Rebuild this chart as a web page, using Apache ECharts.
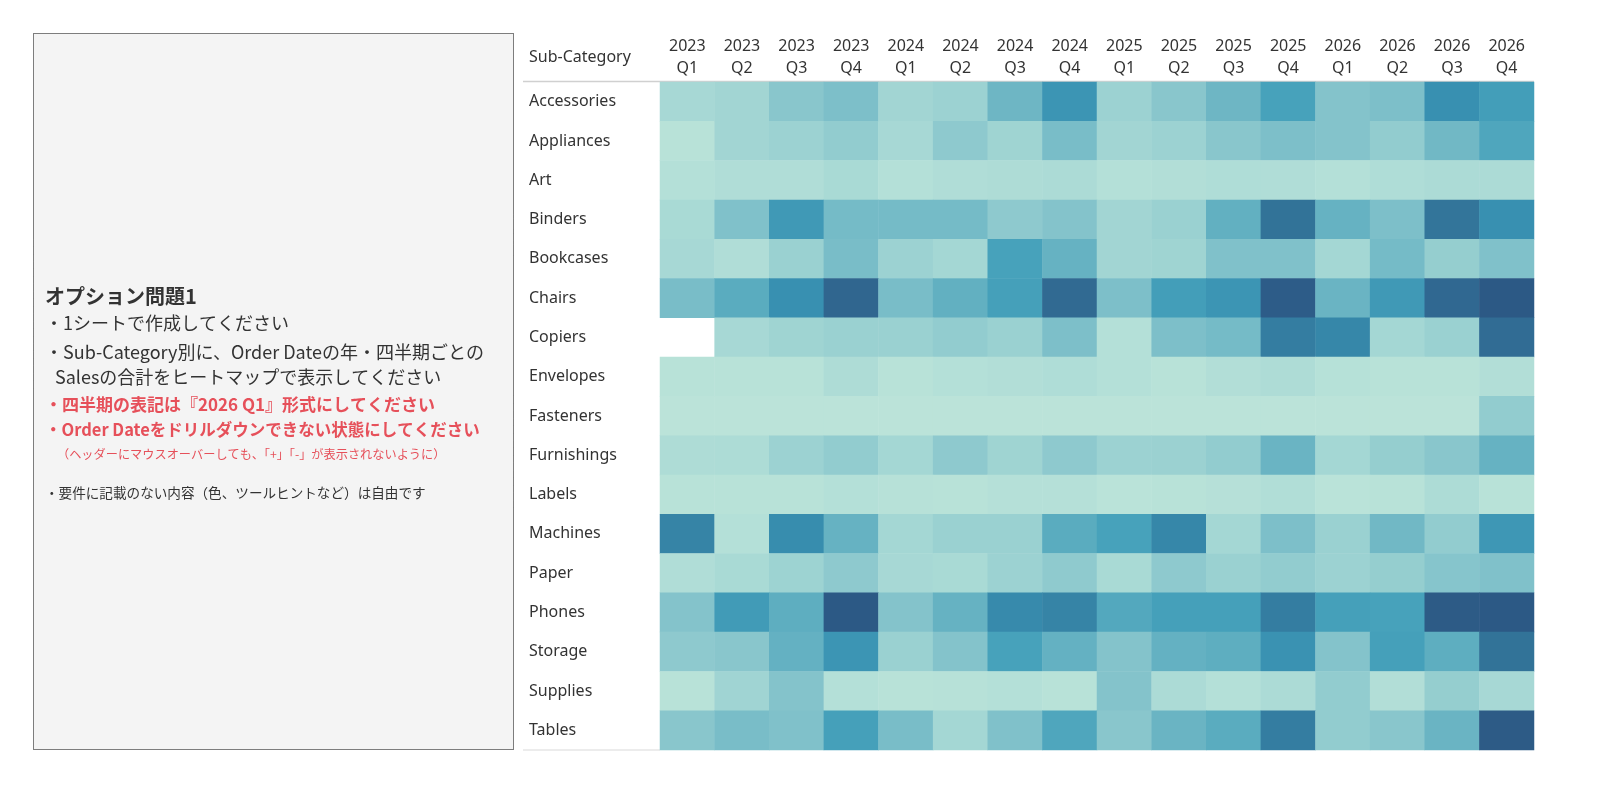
<!DOCTYPE html>
<html>
<head>
<meta charset="utf-8">
<title>Sales heatmap</title>
<script src="https://cdn.jsdelivr.net/npm/echarts@6/dist/echarts.min.js"></script>
<style>
  html, body { margin: 0; padding: 0; background: #fff; }
  #main { width: 1600px; height: 800px; }
</style>
</head>
<body>
<div id="main"></div>
<script>
// 四半期ラベル
var quarters = ['2023\nQ1','2023\nQ2','2023\nQ3','2023\nQ4','2024\nQ1','2024\nQ2','2024\nQ3','2024\nQ4',
                '2025\nQ1','2025\nQ2','2025\nQ3','2025\nQ4','2026\nQ1','2026\nQ2','2026\nQ3','2026\nQ4'];
var subCategories = ['Accessories','Appliances','Art','Binders','Bookcases','Chairs','Copiers','Envelopes',
                     'Fasteners','Furnishings','Labels','Machines','Paper','Phones','Storage','Supplies','Tables'];

// Sales合計（千ドル、画像から読み取り）
var accessories = [5, 6, 11, 13, 6, 7, 15, 23, 7, 11, 15, 20, 12, 13, 24, 21];
var appliances  = [1, 6, 7, 9, 5, 10, 6.5, 13.5, 6, 7, 11, 13, 12, 9, 14.5, 19];
var art         = [2, 3, 3, 4.5, 2, 3, 3.5, 4, 2, 2.5, 3.3, 3, 2, 3.3, 4, 4];
var binders     = [4.5, 12.5, 22, 14, 14, 14, 10, 12, 6, 7.5, 16.5, 29, 16, 13, 28.5, 24];
var bookcases   = [5, 3, 7.5, 13.5, 7, 5.5, 20, 16, 6, 6.5, 12.5, 12.5, 5.5, 14, 8.5, 12.5];
var chairs      = [13.5, 17.5, 24, 32, 13.5, 16.5, 20.5, 31, 13, 21, 23, 35, 15.5, 22, 31.5, 36];
var copiers     = [null, 5, 6.5, 7.5, 7.5, 9, 7.5, 13, 2, 13, 14, 27, 25.5, 5.5, 7.5, 30.5];
var envelopes   = [1, 1, 1, 3.5, 1, 2, 2.5, 3.3, 2, 1, 2.5, 3.5, 1.5, 1, 1, 2.5];
var fasteners   = [0.3, 0.3, 0.3, 0.3, 0.3, 0.3, 0.3, 0.3, 0.3, 0.3, 0.3, 0.3, 0.3, 0.3, 0.3, 9];
var furnishings = [3.5, 3.7, 7, 9, 5.5, 10, 6.5, 10, 7, 7.3, 9, 15.5, 5.5, 8.5, 11, 16];
var labels      = [1, 1, 1, 2, 1.2, 1, 1.8, 1.8, 0.6, 1, 1.6, 2.8, 0.6, 1, 3.7, 1];
var machines    = [26, 2, 24.5, 16, 5.5, 7.5, 7.5, 17.5, 20, 25.5, 5.5, 13, 7.5, 14.5, 9, 22.5];
var paper       = [3, 4.5, 6.8, 10, 5, 4.5, 7, 9.7, 4.5, 10, 7.5, 9, 7, 8.5, 11.5, 12.5];
var phones      = [12, 21.5, 17, 36, 12, 16, 25, 26, 18.5, 20.5, 20.5, 27, 20.5, 20, 35.5, 36];
var storage     = [10, 11, 16.2, 23, 7.5, 12, 20, 16.2, 12, 16.2, 17, 23.5, 12, 20.5, 17, 29];
var supplies    = [1, 6.3, 12, 2, 1, 1.2, 2, 1, 12, 4, 2, 4, 9, 2.5, 8.5, 5];
var tables      = [11, 13.5, 12.5, 20.5, 13.5, 5.5, 12.5, 19, 11, 15.5, 17.5, 27, 9, 11, 15.5, 35.5];

var rows = [accessories, appliances, art, binders, bookcases, chairs, copiers, envelopes,
            fasteners, furnishings, labels, machines, paper, phones, storage, supplies, tables];

var heatData = [];
for (var r = 0; r < rows.length; r++) {
	for (var c = 0; c < quarters.length; c++) {
		if (rows[r][c] !== null) {
			heatData.push([c, r, rows[r][c]]);
		}
	}
}

var font = '"Noto Sans", "Noto Sans CJK JP", sans-serif';
var jpFont = '"Noto Sans CJK JP", sans-serif';

var myChart = echarts.init(document.getElementById('main'));
var option = {
	backgroundColor: '#ffffff',
	animation: false,
	grid: { left: 660, right: 66, top: 82, bottom: 50 },
	xAxis: {
		type: 'category',
		position: 'top',
		data: quarters,
		axisLine: { show: false },
		axisTick: { show: false },
		splitLine: { show: false },
		axisLabel: { color: '#333', fontSize: 16, fontFamily: font, lineHeight: 22, margin: 3 }
	},
	yAxis: {
		type: 'category',
		inverse: true,
		data: subCategories,
		axisLine: { show: false },
		axisTick: { show: false },
		axisLabel: { color: '#333', fontSize: 16, fontFamily: font, align: 'left', margin: 131 }
	},
	visualMap: {
		show: false,
		type: 'continuous',
		min: 0,
		max: 36,
		dimension: 2,
		inRange: {
			color: ['#bce4d9', '#acdbd6', '#97cfd0', '#84c3cb', '#66b2c2', '#47a2bb',
			        '#3890b1', '#33779b', '#30668f', '#2c5985']
		}
	},
	series: [{
		type: 'heatmap',
		data: heatData,
		itemStyle: { borderWidth: 0 },
		emphasis: { disabled: true }
	}],
	graphic: [
		// 左側の説明パネル
		{ type: 'rect', shape: { x: 33.5, y: 33.5, width: 480, height: 716 },
		  style: { fill: '#f4f4f4', stroke: '#000', lineWidth: 1, lineDash: [1, 1] } },
		{ type: 'text', x: 45, y: 296, style: { text: 'オプション問題1', fill: '#333', font: 'bold 20px ' + jpFont, textVerticalAlign: 'middle' } },
		{ type: 'text', x: 45, y: 323, style: { text: '・1シートで作成してください', fill: '#333', font: '18px ' + jpFont, textVerticalAlign: 'middle' } },
		{ type: 'text', x: 45, y: 352, style: { text: '・Sub-Category別に、Order Dateの年・四半期ごとの', fill: '#333', font: '18px ' + jpFont, textVerticalAlign: 'middle' } },
		{ type: 'text', x: 55, y: 377, style: { text: 'Salesの合計をヒートマップで表示してください', fill: '#333', font: '18px ' + jpFont, textVerticalAlign: 'middle' } },
		{ type: 'text', x: 45, y: 405, style: { text: '・四半期の表記は『2026 Q1』形式にしてください', fill: '#e6505a', font: 'bold 17px ' + jpFont, textVerticalAlign: 'middle' } },
		{ type: 'text', x: 45, y: 430, style: { text: '・Order Dateをドリルダウンできない状態にしてください', fill: '#e6505a', font: 'bold 16.5px ' + jpFont, textVerticalAlign: 'middle' } },
		{ type: 'text', x: 57, y: 454, style: { text: '（ヘッダーにマウスオーバーしても、「+」「-」が表示されないように）', fill: '#e6505a', font: '12.2px ' + jpFont, textVerticalAlign: 'middle' } },
		{ type: 'text', x: 45, y: 493, style: { text: '・要件に記載のない内容（色、ツールヒントなど）は自由です', fill: '#333', font: '13.6px ' + jpFont, textVerticalAlign: 'middle' } },
		// 行ヘッダー
		{ type: 'text', x: 529, y: 57, style: { text: 'Sub-Category', fill: '#333', font: '16px ' + font, textVerticalAlign: 'middle' } },
		{ type: 'line', shape: { x1: 523, y1: 81.5, x2: 1534, y2: 81.5 }, style: { stroke: '#d0d0d0', lineWidth: 1.5 } },
		{ type: 'line', shape: { x1: 523, y1: 750, x2: 660, y2: 750 }, style: { stroke: '#d9d9d9', lineWidth: 1 } }
	]
};

//描画
myChart.setOption(option);
window.onresize = myChart.resize;
</script>
</body>
</html>
